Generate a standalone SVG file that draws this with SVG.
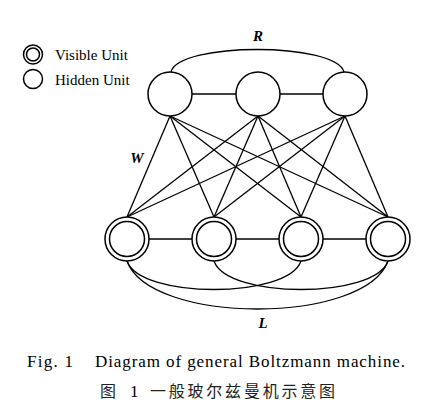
<svg xmlns="http://www.w3.org/2000/svg" width="423" height="413" viewBox="0 0 423 413">
<style>
.c{fill:#fff;stroke:#000;stroke-width:1.5}
.l{fill:none;stroke:#000;stroke-width:1.3}
.t{font-family:'Liberation Serif','DejaVu Serif',serif;fill:#000}
.lab{font-family:'Liberation Serif','DejaVu Serif',serif;font-weight:bold;font-style:italic;font-size:15px;fill:#000}
.zh{font-family:'Noto Sans CJK SC',sans-serif;font-size:16px;fill:#222}
</style>
<rect width="423" height="413" fill="#fff"/>
<g id="connectors">
<path class="l" d="M171,72 C178,42 336,42 344,72"/>
<line class="l" x1="192" y1="94" x2="236" y2="94"/>
<line class="l" x1="280" y1="94" x2="323" y2="94"/>
<line class="l" x1="149" y1="239" x2="192" y2="239"/>
<line class="l" x1="236" y1="239" x2="279" y2="239"/>
<line class="l" x1="323" y1="239" x2="366" y2="239"/>
<g>
<line class="l" x1="170" y1="116" x2="127" y2="217"/>
<line class="l" x1="170" y1="116" x2="214" y2="217"/>
<line class="l" x1="170" y1="116" x2="301" y2="217"/>
<line class="l" x1="170" y1="116" x2="388" y2="217"/>
<line class="l" x1="258" y1="116" x2="127" y2="217"/>
<line class="l" x1="258" y1="116" x2="214" y2="217"/>
<line class="l" x1="258" y1="116" x2="301" y2="217"/>
<line class="l" x1="258" y1="116" x2="388" y2="217"/>
<line class="l" x1="345" y1="116" x2="127" y2="217"/>
<line class="l" x1="345" y1="116" x2="214" y2="217"/>
<line class="l" x1="345" y1="116" x2="301" y2="217"/>
<line class="l" x1="345" y1="116" x2="388" y2="217"/>
</g>
<path class="l" d="M127,261 C140,299 288,299 301,261"/>
<path class="l" d="M214,261 C227,299 375,299 388,261"/>
<path class="l" d="M127,261 C150,325 365,325 388,261"/>
</g>
<g id="h1"><circle class="c" cx="170" cy="94" r="22"/></g>
<g id="h2"><circle class="c" cx="258" cy="94" r="22"/></g>
<g id="h3"><circle class="c" cx="345" cy="94" r="22"/></g>
<g id="v1"><circle class="c" cx="127" cy="239" r="22"/><circle class="c" cx="127" cy="239" r="17.5"/></g>
<g id="v2"><circle class="c" cx="214" cy="239" r="22"/><circle class="c" cx="214" cy="239" r="17.5"/></g>
<g id="v3"><circle class="c" cx="301" cy="239" r="22"/><circle class="c" cx="301" cy="239" r="17.5"/></g>
<g id="v4"><circle class="c" cx="388" cy="239" r="22"/><circle class="c" cx="388" cy="239" r="17.5"/></g>
<g id="legend">
<circle class="c" cx="33" cy="54.5" r="9.5"/><circle class="c" cx="33" cy="54.5" r="6.5"/>
<text class="t" x="55" y="60" font-size="15">Visible Unit</text>
<circle class="c" cx="33" cy="79" r="9.5"/>
<text class="t" x="55" y="85" font-size="15">Hidden Unit</text>
</g>
<text class="lab" x="258" y="41" text-anchor="middle">R</text>
<text class="lab" x="137" y="163" text-anchor="middle">W</text>
<text class="lab" x="263" y="328" text-anchor="middle">L</text>
<text class="t" x="27" y="367" font-size="17" textLength="46" lengthAdjust="spacing">Fig. 1</text>
<text class="t" x="95" y="367" font-size="17" textLength="310" lengthAdjust="spacing">Diagram of general Boltzmann machine.</text>
<text class="zh" x="100" y="397">图</text>
<text class="t" x="130" y="397" font-size="17">1</text>
<text class="zh" x="150" y="397" textLength="185" lengthAdjust="spacing">一般玻尔兹曼机示意图</text>
</svg>
